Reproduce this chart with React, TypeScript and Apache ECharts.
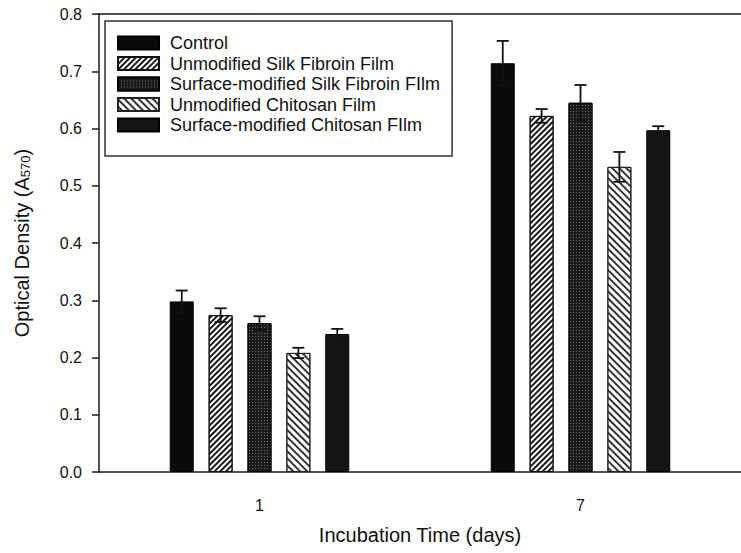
import React, { useEffect, useRef } from "react";
import * as echarts from "echarts";

const categories = ["1", "7"];
const seriesNames = [
  "Control",
  "Unmodified Silk Fibroin Film",
  "Surface-modified Silk Fibroin FIlm",
  "Unmodified Chitosan Film",
  "Surface-modified Chitosan FIlm",
];
const controlValues = [0.298, 0.714];
const controlErrors = [0.019, 0.039];
const unmodSilkValues = [0.274, 0.622];
const unmodSilkErrors = [0.012, 0.012];
const surfSilkValues = [0.26, 0.645];
const surfSilkErrors = [0.012, 0.031];
const unmodChitosanValues = [0.208, 0.533];
const unmodChitosanErrors = [0.009, 0.026];
const surfChitosanValues = [0.241, 0.597];
const surfChitosanErrors = [0.009, 0.007];
const yTicks = [0, 0.1, 0.2, 0.3, 0.4, 0.5, 0.6, 0.7, 0.8];

const allValues = [controlValues, unmodSilkValues, surfSilkValues, unmodChitosanValues, surfChitosanValues];
const allErrors = [controlErrors, unmodSilkErrors, surfSilkErrors, unmodChitosanErrors, surfChitosanErrors];

const BAR_W = 24;
const BAR_GAP = 0.62;

const styles: any[] = [
  { color: "#0a0a0a", borderColor: "#000", borderWidth: 1 },
  {
    color: "#ffffff",
    borderColor: "#111",
    borderWidth: 1,
    decal: {
      symbol: "rect",
      symbolSize: 1,
      color: "#1a1a1a",
      backgroundColor: "#ffffff",
      dashArrayX: [1, 0],
      dashArrayY: [1.8, 1.8],
      rotation: -Math.PI / 4,
    },
  },
  {
    color: "#1c1c1c",
    borderColor: "#000",
    borderWidth: 1,
    decal: {
      symbol: "rect",
      symbolSize: 1,
      color: "#6a6a6a",
      backgroundColor: "#1c1c1c",
      dashArrayX: [[1, 2]],
      dashArrayY: [1, 2],
      rotation: 0,
    },
  },
  {
    color: "#ffffff",
    borderColor: "#222",
    borderWidth: 1,
    decal: {
      symbol: "rect",
      symbolSize: 1,
      color: "#333333",
      backgroundColor: "#ffffff",
      dashArrayX: [1, 0],
      dashArrayY: [1.6, 2.4],
      rotation: Math.PI / 4,
    },
  },
  { color: "#151515", borderColor: "#000", borderWidth: 1 },
];

export default function App() {
  const ref = useRef<HTMLDivElement>(null);
  useEffect(() => {
    if (!ref.current) return;
    const chart = echarts.init(ref.current, null, { renderer: "svg" });
    const font = "'Liberation Sans', Arial, sans-serif";

    const barSeries = seriesNames.map((name, i) => ({
      name,
      type: "bar",
      data: allValues[i],
      barWidth: BAR_W,
      barGap: BAR_GAP * 100 + "%",
      itemStyle: styles[i],
      z: 2,
    }));

    const errData: any[] = [];
    allValues.forEach((vals, s) => {
      vals.forEach((v, c) => errData.push([c, v, allErrors[s][c], s]));
    });

    const errSeries = {
      type: "custom",
      name: "err",
      z: 5,
      silent: true,
      data: errData,
      renderItem: (params: any, api: any) => {
        const c = api.value(0);
        const v = api.value(1);
        const e = api.value(2);
        const s = api.value(3);
        const offset = (s - 2) * BAR_W * (1 + BAR_GAP);
        const x = api.coord([c, v])[0] + offset;
        const yTop = api.coord([c, v + e])[1];
        const yBot = api.coord([c, v - e])[1];
        const st = { stroke: "#111", lineWidth: 1.8 };
        return {
          type: "group",
          children: [
            { type: "line", shape: { x1: x, y1: yTop, x2: x, y2: yBot }, style: st },
            { type: "line", shape: { x1: x - 6, y1: yTop, x2: x + 6, y2: yTop }, style: st },
            { type: "line", shape: { x1: x - 6, y1: yBot, x2: x + 6, y2: yBot }, style: st },
          ],
        };
      },
    };

    chart.setOption({
      animation: false,
      backgroundColor: "#ffffff",
      textStyle: { fontFamily: font },
      grid: { left: 99, top: 14, width: 650, height: 458 },
      legend: {
        data: seriesNames,
        orient: "vertical",
        left: 105,
        top: 21,
        padding: [13, 12, 22, 12],
        itemWidth: 41,
        itemHeight: 13,
        itemGap: 2.5,
        icon: "rect",
        borderColor: "#333",
        borderWidth: 1.5,
        textStyle: { fontSize: 18, color: "#111", fontFamily: font, lineHeight: 18, padding: [0, 0, 0, 6] },
      },
      xAxis: [
        {
          type: "category",
          data: categories,
          axisLine: { lineStyle: { color: "#1a1a1a", width: 1.5 } },
          axisTick: { alignWithLabel: true, length: 6, lineStyle: { color: "#1a1a1a", width: 1.5 } },
          axisLabel: { fontSize: 16, color: "#111", margin: 25, fontFamily: font },
          name: "Incubation Time (days)",
          nameLocation: "middle",
          nameGap: 53,
          nameTextStyle: { fontSize: 20, color: "#111", fontFamily: font },
        },
        {
          type: "category",
          data: categories,
          position: "top",
          axisLine: { show: true, lineStyle: { color: "#1a1a1a", width: 1.5 } },
          axisTick: { show: false },
          axisLabel: { show: false },
        },
      ],
      yAxis: {
        type: "value",
        min: 0,
        max: 0.8,
        interval: 0.1,
        splitLine: { show: false },
        axisLine: { show: true, lineStyle: { color: "#1a1a1a", width: 1.5 } },
        axisTick: { show: true, length: 7, lineStyle: { color: "#1a1a1a", width: 1.5 } },
        axisLabel: {
          fontSize: 16,
          color: "#111",
          margin: 17,
          fontFamily: font,
          formatter: (v: number) => (yTicks.some((t) => Math.abs(t - v) < 1e-9) ? v.toFixed(1) : ""),
        },
        name: "{a|Optical Density (A}{s|570}{a|)}",
        nameLocation: "middle",
        nameGap: 67,
        nameTextStyle: {
          rich: {
            a: { fontSize: 20, color: "#111", fontFamily: font },
            s: { fontSize: 13, color: "#111", fontFamily: font, verticalAlign: "bottom", padding: [8, 0, 0, 0] },
          },
        },
      },
      series: [...barSeries, errSeries],
    });
    return () => chart.dispose();
  }, []);
  return <div ref={ref} style={{ position: "fixed", left: 0, top: 0, width: 741, height: 553 }} />;
}
